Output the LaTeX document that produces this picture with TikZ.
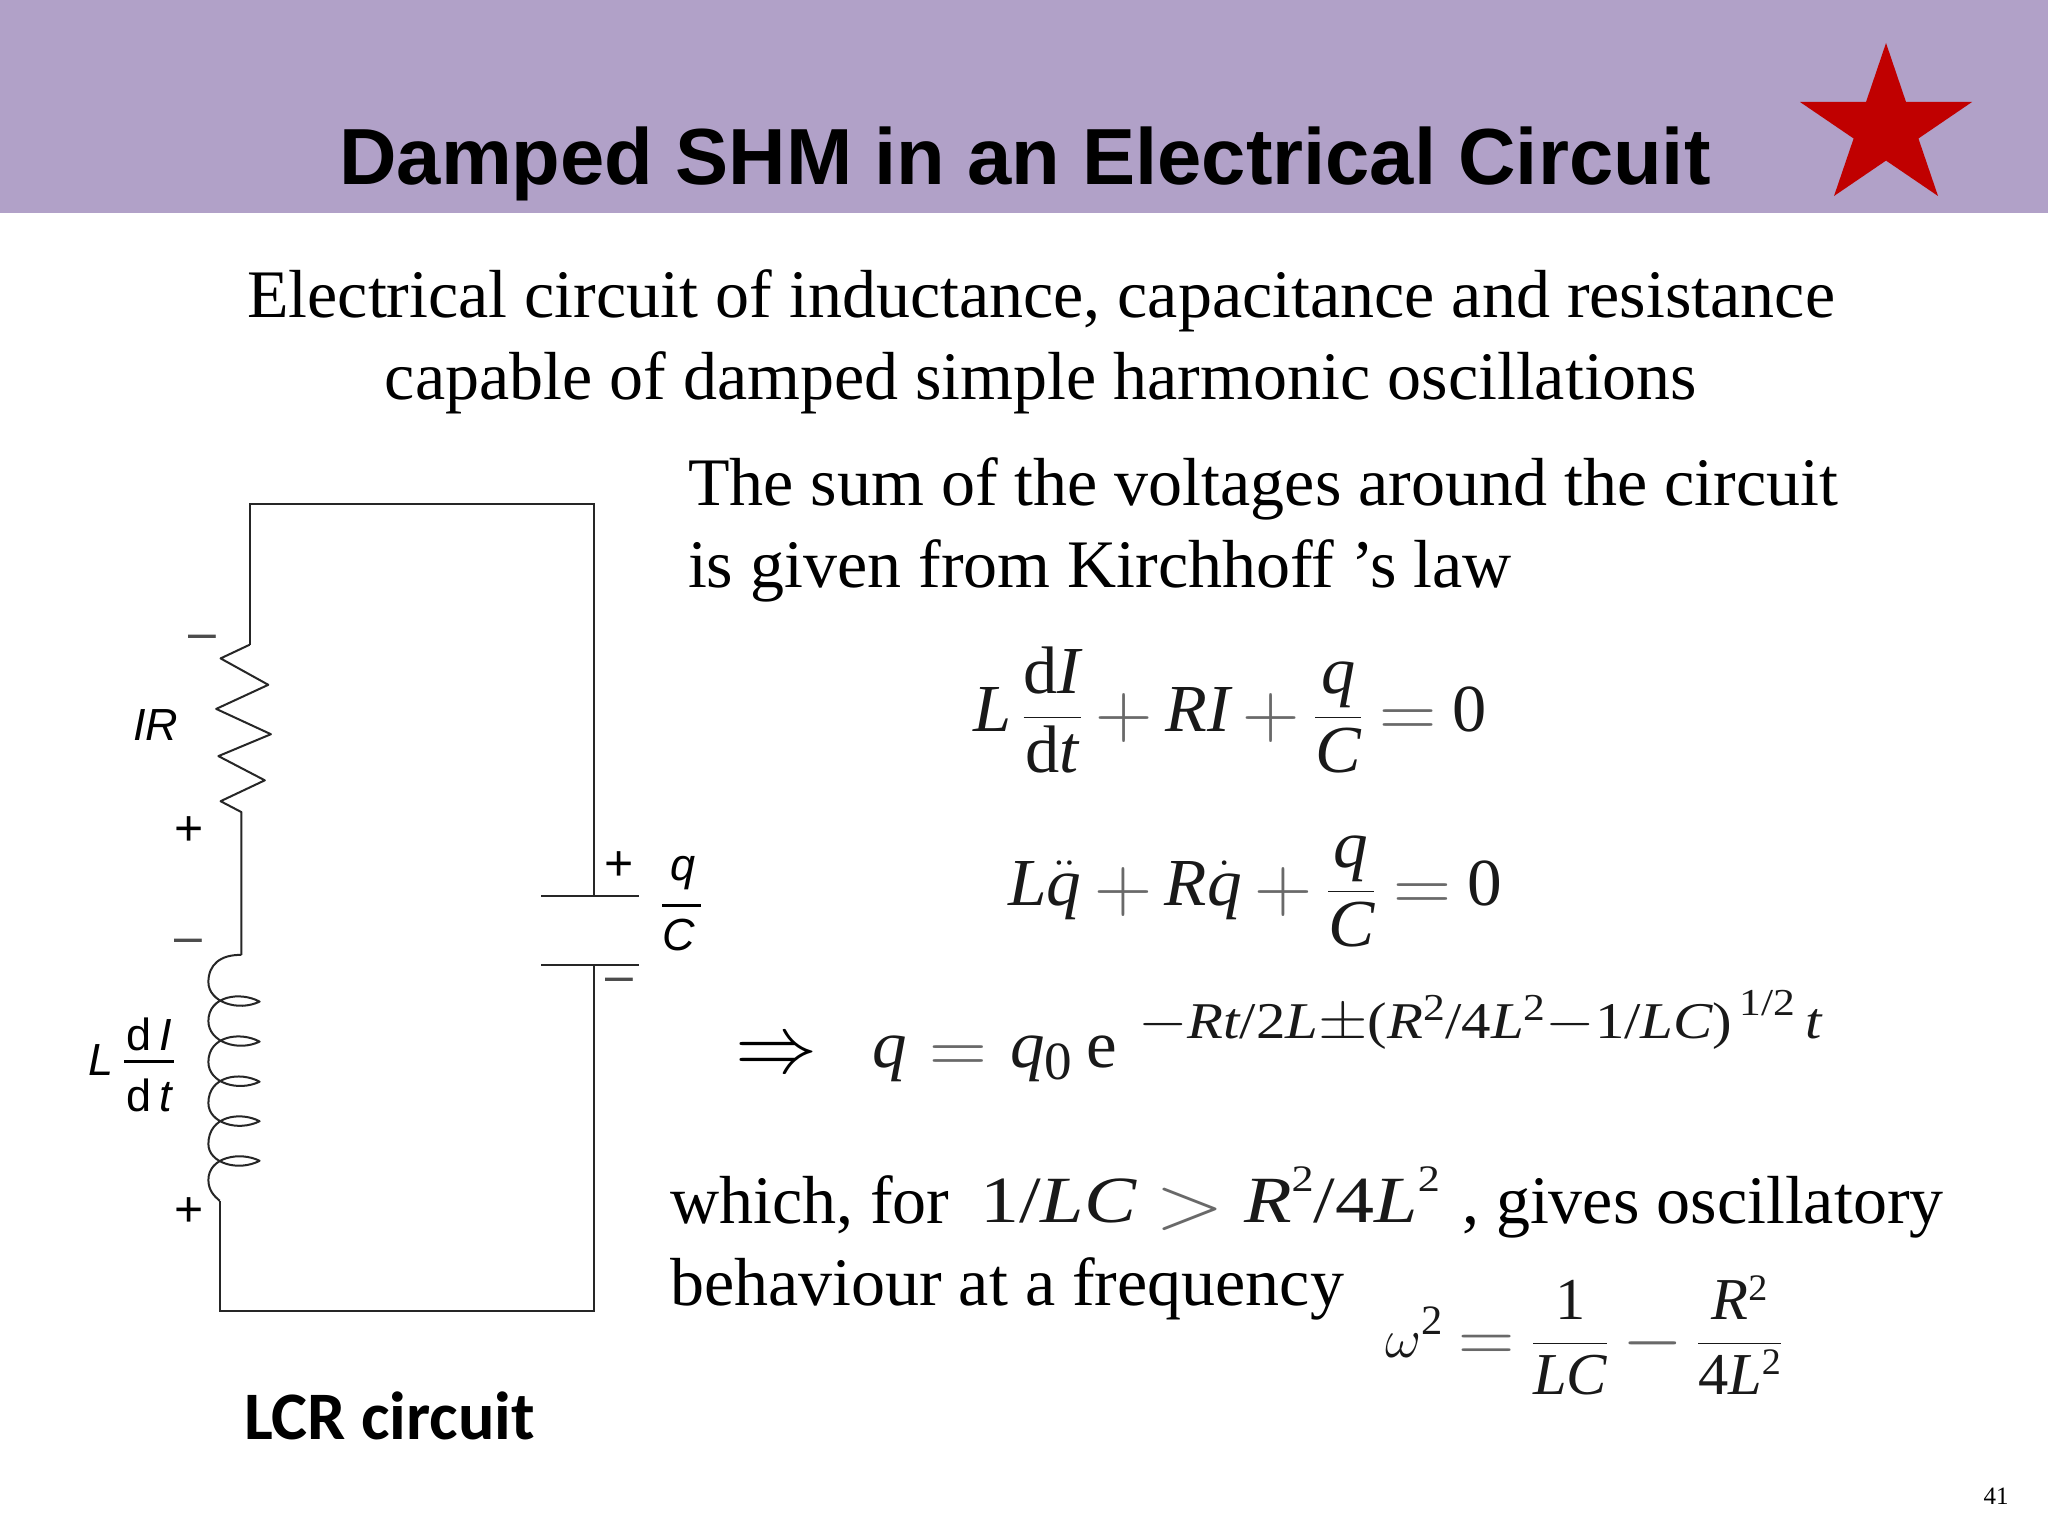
\documentclass[tikz,border=0pt]{standalone}
\usepackage{fontspec}
\setmainfont{Liberation Serif}
\newfontfamily\arialf{Liberation Sans}
\newfontfamily\carl{Carlito}
\newcommand\fsz[1]{\fontsize{#1}{#1}\selectfont}
\newcommand\vi[1]{\mbox{\itshape #1}}
\newcommand\ssup[2]{\raisebox{#1}{\fsz{17}#2}}
\newcommand\dstrut{\rule{0pt}{0.78em}}
\newcommand\nstrut{\rule[-0.16em]{0pt}{0.1em}}
\definecolor{band}{RGB}{177,161,200}
\definecolor{starred}{RGB}{192,0,0}
\definecolor{eqink}{RGB}{25,25,25}
\definecolor{opgray}{RGB}{105,105,105}
\newcommand\bigop[1]{\raisebox{-0.1em}{\textcolor{opgray}{\scalebox{1.4}{$#1$}}}}
\newcommand\opb[1]{\ensuremath{\mathbin{\bigop{#1}}}}
\newcommand\opr[1]{\ensuremath{\mathrel{\bigop{#1}}}}
\tikzset{
  txt/.style={inner sep=0pt,outer sep=0pt,anchor=base},
  title/.style={txt,font=\arialf\bfseries\fsz{39.8}},
  body/.style={txt,font=\fsz{34}},
  bodyl/.style={body,anchor=base west},
  eqn/.style={txt,font=\fsz{30},text=eqink},
  ckt/.style={txt,anchor=center,font=\arialf\fsz{22.5}},
  sign/.style={txt,anchor=center,font=\arialf\fsz{25}},
  wire/.style={draw=black!85,line width=1pt,line join=miter},
  plate/.style={draw=black!85,line width=1pt},
  fracbar/.style={draw=black,line width=1.1pt}
}
\begin{document}
\begin{tikzpicture}[x=0.5pt,y=-0.5pt]
\useasboundingbox (0,0) rectangle (2048,1536);
\fill[white] (0,0) rectangle (2048,1536);
\fill[band] (0,0) rectangle (2048,213);
\fill[starred] (1886,43) -- (1906,102) -- (1972,102) -- (1918.4,138.5) -- (1938,196) -- (1886,160.6) -- (1834,196) -- (1853.6,138.5) -- (1800,102) -- (1866,102) -- cycle;

\node[title] (title) at (1025,184) {Damped SHM in an Electrical Circuit};
\node[body] (l1) at (1041,317.5) {Electrical circuit of inductance, capacitance and resistance};
\node[body] (l2) at (1041,399) {capable of damped simple harmonic oscillations};
\node[bodyl] (l3) at (688,505) {The sum of the voltages around the circuit};
\node[bodyl] (l4) at (688,587) {is given from Kirchhoff ’s law};
\node[bodyl] (l5) at (670,1223.5) {which, for};
\node[bodyl] (l6) at (1462,1223.5) {, gives oscillatory};
\node[bodyl] (l7) at (670,1305) {behaviour at a frequency};

% equations
\node[eqn] (eq1) at (1230,731) {\scalebox{1.14}[1.12]{$\displaystyle \vi{L}\,\frac{\nstrut\mbox{d\itshape I}}{\dstrut\mbox{d\itshape t}}\opb{+}\vi{RI}\opb{+}\frac{\nstrut\vi{q}}{\dstrut\vi{C}}\opr{=}\mbox{0}$}};
\node[eqn] (eq2) at (1255,905) {\scalebox{1.155}[1.12]{$\displaystyle \vi{L}\ddot{\vi{q}}\opb{+}\vi{R}\dot{\vi{q}}\opb{+}\frac{\nstrut\vi{q}}{\dstrut\vi{C}}\opr{=}\mbox{0}$}};
\node[txt,anchor=center] (impl) at (777,1057) {\scalebox{1.65}{\fsz{30}$\Rightarrow$}};
\node[eqn,anchor=base west] (eq3a) at (872,1067) {\scalebox{1.15}[1.12]{\vi{q}\hspace{10pt}\bigop{=}\hspace{10pt}\vi{q}\raisebox{-0.18em}{\fsz{24}0}\hspace{6pt}e}};
\node[eqn,anchor=base west,font=\fsz{23}] (eq3b) at (1138,1038) {\scalebox{1.28}[1.12]{$-$\vi{Rt}/2\vi{L}$\pm$(\vi{R}\ssup{8pt}{2}/4\vi{L}\ssup{8pt}{2}$-$1/\vi{LC})\ssup{10pt}{\,1/2}\,\vi{t}}};
\node[eqn,anchor=base west] (eq4) at (980,1222) {\scalebox{1.3}[1.1]{1/\vi{LC} \bigop{>} \vi{R}\ssup{14pt}{2}/4\vi{L}\ssup{14pt}{2}}};
\node[eqn,anchor=base west,font=\fsz{27}] (eq5) at (1385,1357) {\scalebox{1.12}[1.1]{$\displaystyle \omega^{\mbox{\fsz{19}2}}\opr{=}\frac{\nstrut\mbox{1}}{\dstrut\vi{LC}}\opb{-}\frac{\vi{R}\ssup{9pt}{2}}{\dstrut\mbox{4\itshape L}\ssup{9pt}{2}}$}};

% circuit
\coordinate (tl) at (249.7,503.6);
\coordinate (tr) at (593.8,503.6);
\coordinate (bl) at (219.7,1310.6);
\coordinate (br) at (593.8,1310.6);
\coordinate (rtop) at (249.7,644.7);
\coordinate (rbot) at (241.4,812.1);
\coordinate (ctop) at (241.4,954.9);
\coordinate (cbot) at (219.7,1200.8);
\coordinate (capa) at (593.8,895.6);
\coordinate (capb) at (593.8,964.8);
\coordinate (pa1) at (541,895.6);
\coordinate (pa2) at (638.5,895.6);
\coordinate (pb1) at (541,964.8);
\coordinate (pb2) at (638.5,964.8);
\draw[wire] (rtop) -- (tl) -- (tr) -- (capa);
\draw[wire] (capb) -- (br) -- (bl) -- (cbot);
\draw[plate] (pa1) -- (pa2);
\draw[plate] (pb1) -- (pb2);
\draw[wire,line join=round] (rtop) -- (220.6,658.4) -- (268.3,684.8) -- (216.2,708.9) -- (270.9,734.2) -- (218.4,756.1) -- (264.8,780.3) -- (220.6,801.2) -- (rbot) -- (ctop);
\draw[wire,line join=round] (ctop)
  .. controls (220,954.5) and (208.4,965) .. (208.4,982)
  .. controls (208.4,1002) and (238,1012) .. (259.6,1001.6)
  .. controls (240,991) and (208.4,996) .. (208.4,1021)
  .. controls (208.4,1042) and (238,1052) .. (259.6,1041.6)
  .. controls (240,1031) and (208.4,1036) .. (208.4,1062)
  .. controls (208.4,1083) and (238,1092) .. (259.6,1081.7)
  .. controls (240,1071) and (208.4,1076) .. (208.4,1103)
  .. controls (208.4,1123) and (238,1132) .. (259.6,1121.2)
  .. controls (240,1111) and (208.4,1116) .. (208.4,1144)
  .. controls (208.4,1163) and (238,1172) .. (259.6,1160.8)
  .. controls (240,1151) and (208.4,1157) .. (208.4,1180)
  .. controls (208.4,1190) and (214,1196) .. (cbot);

\node[sign,text=black!70] (m1) at (202.8,642) {–};
\node[sign] (p1) at (189,831) {+};
\node[sign,text=black!70] (m2) at (188,946) {–};
\node[sign] (p2) at (189,1212) {+};
\node[sign] (p3) at (619,866) {+};
\node[sign,text=black!70] (m3) at (619,985) {–};
\node[ckt] (ir) at (155.5,725) {\itshape IR};
\node[ckt] (indl) at (101,1060) {\itshape L};
\node[ckt] (di) at (149,1034) {d\,\itshape I};
\coordinate (b1a) at (124,1061.4);
\coordinate (b1b) at (174,1061.4);
\draw[fracbar] (b1a) -- (b1b);
\node[ckt] (dt) at (149,1095) {d\,\itshape t};
\node[ckt] (capq) at (683,873) {\itshape q};
\coordinate (b2a) at (662.4,905.5);
\coordinate (b2b) at (700.6,905.5);
\draw[fracbar] (b2a) -- (b2b);
\node[ckt] (capc) at (678.7,934.6) {\itshape C};

\node[txt,anchor=base west,font=\carl\bfseries\fsz{34}] (lcr) at (244,1439) {LCR circuit};
\node[txt,font=\fsz{12.5}] (pg) at (1996,1504) {41};
\end{tikzpicture}
\end{document}
